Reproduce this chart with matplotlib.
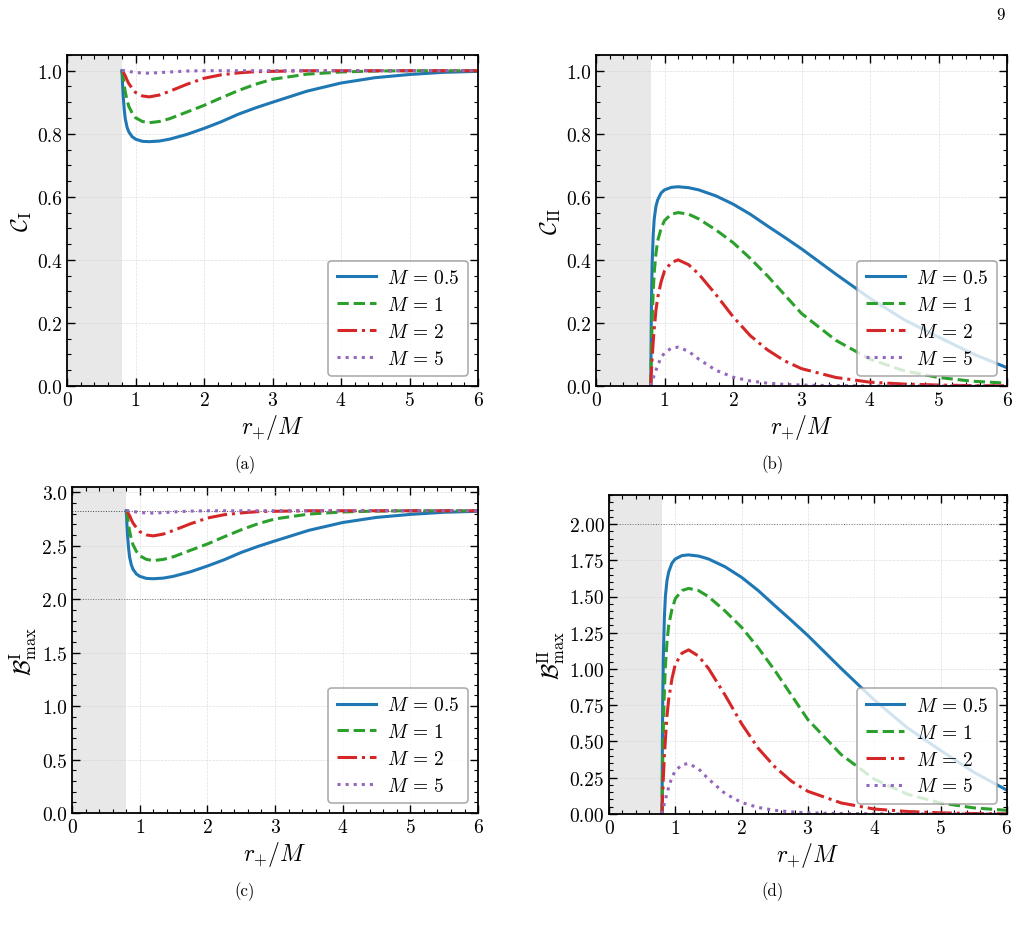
import matplotlib
matplotlib.use("Agg")
import matplotlib.pyplot as plt
from matplotlib.ticker import AutoMinorLocator, MultipleLocator

plt.rcParams["font.family"] = "serif"
plt.rcParams["font.serif"] = ["cmr10", "DejaVu Serif"]
plt.rcParams["mathtext.fontset"] = "cm"
plt.rcParams["axes.formatter.use_mathtext"] = True
plt.rcParams["axes.unicode_minus"] = False

# r_+/M sample points
r = [0.8, 0.805, 0.81, 0.82, 0.835, 0.85, 0.875, 0.9, 0.95, 1.0, 1.1, 1.2, 1.35,
     1.5, 1.75, 2.0, 2.25, 2.5, 2.75, 3.0, 3.5, 4.0, 4.5, 5.0, 5.5, 6.0]

masses = ["0.5", "1", "2", "5"]

# (a) C_I
c1_m05 = [1.0, 0.985, 0.96, 0.92, 0.878, 0.848, 0.822, 0.807, 0.791, 0.783, 0.776, 0.775, 0.777,
          0.783, 0.798, 0.817, 0.838, 0.862, 0.882, 0.9, 0.935, 0.961, 0.978, 0.988, 0.995, 0.998]
c1_m1 = [1.0, 0.997, 0.992, 0.978, 0.954, 0.933, 0.908, 0.888, 0.866, 0.851, 0.839, 0.835, 0.839,
         0.848, 0.869, 0.89, 0.914, 0.937, 0.957, 0.973, 0.989, 0.996, 0.999, 1.0, 1.0, 1.0]
c1_m2 = [1.0, 1.0, 0.999, 0.996, 0.99, 0.984, 0.971, 0.96, 0.944, 0.931, 0.92, 0.917, 0.923,
         0.935, 0.957, 0.976, 0.987, 0.993, 0.997, 0.998, 1.0, 1.0, 1.0, 1.0, 1.0, 1.0]
c1_m5 = [1.0, 1.0, 1.0, 1.0, 1.0, 0.999, 0.999, 0.998, 0.996, 0.994, 0.993, 0.992, 0.994,
         0.996, 0.999, 1.0, 1.0, 1.0, 1.0, 1.0, 1.0, 1.0, 1.0, 1.0, 1.0, 1.0]

# (b) C_II
c2_m05 = [0.0, 0.17, 0.27, 0.39, 0.48, 0.53, 0.57, 0.59, 0.612, 0.622, 0.63, 0.632, 0.629,
          0.622, 0.603, 0.577, 0.545, 0.508, 0.472, 0.435, 0.355, 0.278, 0.21, 0.155, 0.102, 0.058]
c2_m1 = [0.0, 0.08, 0.13, 0.21, 0.3, 0.36, 0.42, 0.46, 0.5, 0.525, 0.545, 0.55, 0.545,
         0.53, 0.495, 0.455, 0.405, 0.35, 0.29, 0.23, 0.145, 0.085, 0.048, 0.027, 0.015, 0.009]
c2_m2 = [0.0, 0.03, 0.05, 0.09, 0.14, 0.18, 0.24, 0.28, 0.33, 0.365, 0.392, 0.4, 0.385,
         0.355, 0.29, 0.22, 0.16, 0.115, 0.08, 0.055, 0.027, 0.012, 0.006, 0.003, 0.001, 0.0005]
c2_m5 = [0.0, 0.005, 0.01, 0.015, 0.025, 0.035, 0.05, 0.065, 0.09, 0.105, 0.12, 0.123, 0.11,
         0.085, 0.05, 0.028, 0.016, 0.009, 0.005, 0.003, 0.001, 0.0, 0.0, 0.0, 0.0, 0.0]

# (c) B^I_max
b1_m05 = [2.828, 2.786, 2.715, 2.602, 2.483, 2.398, 2.325, 2.282, 2.237, 2.215, 2.195, 2.192, 2.198,
          2.215, 2.257, 2.311, 2.37, 2.438, 2.495, 2.546, 2.645, 2.718, 2.766, 2.794, 2.814, 2.823]
b1_m1 = [2.828, 2.82, 2.806, 2.766, 2.698, 2.639, 2.568, 2.511, 2.449, 2.407, 2.373, 2.362, 2.373,
         2.398, 2.458, 2.517, 2.585, 2.65, 2.707, 2.752, 2.797, 2.817, 2.825, 2.828, 2.828, 2.828]
b1_m2 = [2.828, 2.828, 2.825, 2.817, 2.8, 2.783, 2.746, 2.715, 2.67, 2.633, 2.602, 2.593, 2.61,
         2.644, 2.706, 2.76, 2.791, 2.808, 2.82, 2.823, 2.828, 2.828, 2.828, 2.828, 2.828, 2.828]
b1_m5 = [2.828, 2.828, 2.828, 2.828, 2.828, 2.825, 2.825, 2.822, 2.817, 2.811, 2.808, 2.806, 2.811,
         2.817, 2.825, 2.828, 2.828, 2.828, 2.828, 2.828, 2.828, 2.828, 2.828, 2.828, 2.828, 2.828]

# (d) B^II_max
b2_m05 = [0.0, 0.48, 0.764, 1.103, 1.358, 1.499, 1.612, 1.669, 1.731, 1.759, 1.782, 1.787, 1.779,
          1.759, 1.705, 1.632, 1.541, 1.437, 1.335, 1.23, 1.004, 0.786, 0.594, 0.438, 0.288, 0.164]
b2_m1 = [0.0, 0.226, 0.368, 0.594, 0.849, 1.018, 1.188, 1.301, 1.414, 1.485, 1.541, 1.556, 1.541,
         1.499, 1.4, 1.287, 1.146, 0.99, 0.82, 0.65, 0.41, 0.24, 0.136, 0.076, 0.042, 0.025]
b2_m2 = [0.0, 0.085, 0.141, 0.255, 0.396, 0.509, 0.679, 0.792, 0.934, 1.033, 1.109, 1.132, 1.089,
         1.004, 0.82, 0.622, 0.453, 0.325, 0.226, 0.156, 0.076, 0.034, 0.017, 0.008, 0.003, 0.001]
b2_m5 = [0.0, 0.014, 0.028, 0.042, 0.071, 0.099, 0.141, 0.184, 0.255, 0.297, 0.34, 0.348, 0.311,
         0.241, 0.141, 0.079, 0.045, 0.025, 0.014, 0.008, 0.003, 0.001, 0.0, 0.0, 0.0, 0.0]

colors = ["#1f77b4", "#2ca02c", "#d62728", "#9467bd"]
styles = ["-", "--", "-.", ":"]

panels = [
    dict(rect=[0.0655, 0.583, 0.4018, 0.3567], data=[c1_m05, c1_m1, c1_m2, c1_m5],
         ylabel=r"$\mathcal{C}_{\mathrm{I}}$", ylim=(0, 1.05), major=0.2, fmt="%.1f",
         hlines=[], cap="(a)", capxy=(0.2395, 0.499)),
    dict(rect=[0.5826, 0.583, 0.4018, 0.3567], data=[c2_m05, c2_m1, c2_m2, c2_m5],
         ylabel=r"$\mathcal{C}_{\mathrm{II}}$", ylim=(0, 1.05), major=0.2, fmt="%.1f",
         hlines=[], cap="(b)", capxy=(0.7556, 0.499)),
    dict(rect=[0.0704, 0.1228, 0.3969, 0.3513], data=[b1_m05, b1_m1, b1_m2, b1_m5],
         ylabel=r"$\mathcal{B}^{\mathrm{I}}_{\max}$", ylim=(0, 3.05), major=0.5, fmt="%.1f",
         hlines=[2.828, 2.0], cap="(c)", capxy=(0.2395, 0.039)),
    dict(rect=[0.5953, 0.1218, 0.389, 0.3437], data=[b2_m05, b2_m1, b2_m2, b2_m5],
         ylabel=r"$\mathcal{B}^{\mathrm{II}}_{\max}$", ylim=(0, 2.2), major=0.25, fmt="%.2f",
         hlines=[2.0], cap="(d)", capxy=(0.7556, 0.039)),
]

fig = plt.figure(figsize=(10.23, 9.28), dpi=100)

for p in panels:
    ax = fig.add_axes(p["rect"])
    ax.axvspan(0, 0.8, color="#e8e8e8", lw=0, zorder=0)
    for h in p["hlines"]:
        ax.axhline(h, color="black", ls=":", lw=0.7, alpha=0.7, zorder=1)
    for vals, m, c, s in zip(p["data"], masses, colors, styles):
        ax.plot(r, vals, color=c, ls=s, lw=2.2, label=r"$M\,=\,%s$" % m, zorder=2)
    ax.set_xlim(0, 6)
    ax.set_ylim(*p["ylim"])
    ax.xaxis.set_major_locator(MultipleLocator(1))
    ax.yaxis.set_major_locator(MultipleLocator(p["major"]))
    ax.yaxis.set_major_formatter(matplotlib.ticker.FormatStrFormatter(p["fmt"]))
    ax.xaxis.set_minor_locator(AutoMinorLocator())
    ax.yaxis.set_minor_locator(AutoMinorLocator())
    ax.tick_params(which="both", direction="in", top=True, right=True, labelsize=14)
    ax.tick_params(which="major", length=6, width=1.0)
    ax.tick_params(which="minor", length=3, width=0.8)
    for sp in ax.spines.values():
        sp.set_linewidth(1.3)
    ax.grid(True, which="major", ls="--", lw=0.5, color="#d0d0d0", alpha=0.7)
    ax.set_xlabel(r"$r_{+}/M$", fontsize=17, labelpad=2)
    ax.set_ylabel(p["ylabel"], fontsize=17, labelpad=2)
    leg = ax.legend(loc="lower right", fontsize=14, frameon=True, fancybox=True,
                    framealpha=0.8, edgecolor="#999999", handlelength=2.0,
                    handletextpad=0.6, borderpad=0.45, labelspacing=0.45)
    leg.get_frame().set_linewidth(1.2)
    fig.text(p["capxy"][0], p["capxy"][1], p["cap"], ha="center", va="center", fontsize=12)

fig.text(0.978, 0.983, "9", ha="center", va="center", fontsize=12)

fig.savefig("out.png", dpi=100)
